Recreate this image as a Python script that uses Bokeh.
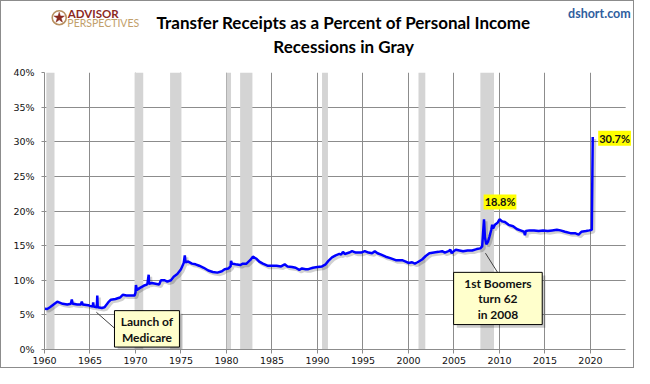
from bokeh.plotting import figure
from bokeh.layouts import column
from bokeh.models import Range1d, FixedTicker, PrintfTickFormatter, Label
from bokeh.embed import file_html
from bokeh.resources import INLINE

# ---- data ----
dates = [1960.0, 1960.3, 1960.6, 1961.0, 1961.4, 1961.6, 1962.0, 1962.5, 1962.9, 1963.0,
         1963.1, 1963.6, 1964.0, 1964.1, 1964.2, 1964.8, 1965.0, 1965.3, 1965.35, 1965.4,
         1965.75, 1965.8, 1965.85, 1966.3, 1966.6, 1967.0, 1967.3, 1967.8, 1968.3, 1968.6,
         1969.0, 1969.5, 1969.9, 1970.0, 1970.05, 1970.15, 1970.5, 1970.9, 1971.3, 1971.45,
         1971.5, 1971.8, 1972.2, 1972.6, 1972.8, 1973.2, 1973.5, 1973.9, 1974.2, 1974.6,
         1975.0, 1975.3, 1975.42, 1975.5, 1975.8, 1976.2, 1976.6, 1977.0, 1977.5, 1978.0,
         1978.5, 1979.0, 1979.5, 1979.8, 1980.2, 1980.45, 1980.5, 1980.6, 1981.0, 1981.5,
         1981.8, 1982.2, 1982.6, 1982.9, 1983.3, 1983.6, 1984.0, 1984.5, 1985.0, 1985.5,
         1986.0, 1986.4, 1986.7, 1987.2, 1987.6, 1988.0, 1988.3, 1988.7, 1989.0, 1989.5,
         1990.0, 1990.5, 1990.9, 1991.2, 1991.6, 1992.0, 1992.4, 1992.6, 1992.8, 1993.0,
         1993.5, 1993.8, 1994.2, 1994.8, 1995.2, 1995.6, 1996.0, 1996.3, 1996.6, 1997.0,
         1997.5, 1998.0, 1998.6, 1999.3, 1999.7, 2000.0, 2000.4, 2000.7, 2001.0, 2001.5,
         2001.9, 2002.3, 2002.8, 2003.3, 2003.7, 2004.0, 2004.4, 2004.6, 2004.75, 2004.8,
         2005.2, 2005.6, 2006.0, 2006.5, 2007.0, 2007.5, 2007.9, 2008.1, 2008.3, 2008.4,
         2008.55, 2008.75, 2008.9, 2009.1, 2009.2, 2009.3, 2009.5, 2009.8, 2010.0, 2010.3,
         2010.6, 2011.0, 2011.5, 2011.9, 2012.3, 2012.7, 2012.8, 2012.9, 2013.3, 2013.8,
         2014.3, 2014.8, 2015.3, 2015.8, 2016.3, 2016.7, 2017.2, 2017.8, 2018.3, 2018.7,
         2019.0, 2019.5, 2019.9, 2020.15, 2020.25]
transfer_pct = [5.9, 5.85, 6.1, 6.5, 6.9, 6.8, 6.6, 6.5, 6.6, 7.2,
                6.6, 6.5, 6.5, 6.9, 6.5, 6.4, 6.3, 6.2, 6.8, 6.2,
                6.1, 7.8, 6.1, 6.0, 6.1, 6.8, 7.2, 7.3, 7.5, 7.9,
                7.8, 7.8, 7.8, 8.2, 9.3, 8.6, 8.9, 9.2, 9.4, 10.8,
                9.5, 9.6, 9.5, 9.4, 10.0, 10.0, 9.8, 10.0, 10.5, 10.9,
                11.6, 12.5, 13.6, 12.6, 12.7, 12.4, 12.3, 12.1, 11.8, 11.4,
                11.2, 11.1, 11.3, 11.6, 11.7, 12.0, 12.8, 12.4, 12.3, 12.2,
                12.4, 12.4, 12.9, 13.4, 13.1, 12.7, 12.4, 12.1, 12.1, 12.1,
                12.0, 12.3, 12.0, 11.9, 11.8, 11.5, 11.7, 11.6, 11.6, 11.8,
                11.9, 12.0, 12.3, 12.8, 13.3, 13.6, 13.8, 13.7, 14.1, 13.8,
                14.0, 14.2, 14.0, 14.0, 14.2, 14.0, 13.9, 14.2, 13.9, 13.7,
                13.4, 13.2, 12.9, 12.9, 12.7, 12.5, 12.6, 12.4, 12.6, 13.0,
                13.5, 13.9, 14.0, 14.1, 14.2, 14.0, 14.2, 14.4, 13.9, 14.0,
                14.4, 14.3, 14.2, 14.3, 14.3, 14.5, 14.6, 14.9, 18.8, 16.2,
                15.2, 15.6, 16.3, 17.3, 18.0, 17.5, 18.0, 18.3, 18.8, 18.5,
                18.4, 18.0, 17.8, 17.4, 17.2, 17.0, 16.5, 17.1, 17.2, 17.2,
                17.1, 17.2, 17.1, 17.2, 17.3, 17.2, 17.0, 16.8, 16.8, 16.6,
                17.0, 17.1, 17.2, 17.3, 30.7]
rec_start = [1960.2, 1969.9, 1973.8, 1980.0, 1981.5, 1990.5, 2001.1, 2007.9]
rec_end = [1961.1, 1970.85, 1975.05, 1980.5, 1982.85, 1991.15, 2001.85, 2009.4]
x_ticks = [1960, 1965, 1970, 1975, 1980, 1985, 1990, 1995, 2000, 2005, 2010, 2015, 2020]
y_ticks = [0, 5, 10, 15, 20, 25, 30, 35, 40]
x_axis_end = 2023.87

GRID = "#8c8c8c"
TICKFONT = "DejaVu Sans"
FONT = "Lato"
W = 632
HEAD_H = 60
MAIN_H = 306

# ---------------- header (titles, logo) ----------------
head = figure(width=W, height=HEAD_H, output_backend="svg", toolbar_location=None,
              title=None, x_axis_type=None, y_axis_type=None,
              x_range=Range1d(0, W), y_range=Range1d(HEAD_H, 0),
              min_border=0, min_border_left=0, min_border_right=0,
              min_border_top=0, min_border_bottom=0)
head.outline_line_color = None
head.background_fill_color = "white"
head.border_fill_color = "white"
head.grid.visible = False

head.scatter([15.8], [16.2], marker="circle", size=14, fill_color=None,
             line_color="#b89060", line_width=1.6)
head.scatter([15.8], [16.2], marker="star", size=11, fill_color="#8b2a1f",
             line_color="#8b2a1f", line_width=0.5)
head.add_layout(Label(x=25, y=12.3, text="ADVISOR", text_align="left", text_baseline="middle",
                      text_font=FONT, text_font_style="bold", text_font_size="11.5px",
                      text_color="#8b2a1f"))
head.add_layout(Label(x=24.5, y=21.4, text="PERSPECTIVES", text_align="left",
                      text_baseline="middle", text_font=FONT, text_font_size="10.5px",
                      text_color="#c2a06a"))
head.add_layout(Label(x=629, y=11.8, text="dshort.com", text_align="right",
                      text_baseline="middle", text_font=FONT, text_font_style="bold",
                      text_font_size="12.5px", text_color="#2f5e9e"))
head.add_layout(Label(x=321, y=20.5, text="Transfer Receipts as a Percent of Personal Income",
                      text_align="center", text_baseline="middle", text_font=FONT,
                      text_font_style="bold", text_font_size="17px", text_color="#000000"))
head.add_layout(Label(x=321, y=44.5, text="Recessions in Gray", text_align="center",
                      text_baseline="middle", text_font=FONT, text_font_style="bold",
                      text_font_size="17px", text_color="#000000"))

# ---------------- main chart ----------------
p = figure(width=W, height=MAIN_H, output_backend="svg", toolbar_location=None, title=None,
           x_range=Range1d(1960, 2024.73), y_range=Range1d(0, 40),
           min_border_left=43, min_border_right=0, min_border_top=11, min_border_bottom=18)
p.outline_line_color = None
p.background_fill_color = "white"
p.border_fill_color = "white"

for ax in (p.xaxis[0], p.yaxis[0]):
    ax.axis_line_color = GRID
    ax.major_tick_line_color = GRID
    ax.minor_tick_line_color = None
    ax.major_tick_in = 0
    ax.major_label_text_font = TICKFONT
    ax.major_label_text_font_size = "9.5px"
    ax.major_label_text_color = "#111111"
p.xaxis.ticker = FixedTicker(ticks=x_ticks)
p.yaxis.ticker = FixedTicker(ticks=y_ticks)
p.xaxis.bounds = (1960, x_axis_end)
p.xaxis.major_tick_out = 4
p.yaxis.major_tick_out = 3
p.xaxis.major_label_standoff = 3
p.yaxis.major_label_standoff = 7
p.yaxis.formatter = PrintfTickFormatter(format="%d%%")
p.xgrid.ticker = FixedTicker(ticks=x_ticks)
p.ygrid.ticker = FixedTicker(ticks=y_ticks)
p.xgrid.grid_line_color = GRID
p.ygrid.grid_line_color = GRID

# blank out the grid beyond the end of the x axis
p.quad(left=[x_axis_end], right=[2026], bottom=[-1], top=[41], fill_color="white",
       line_color=None)

# recession bars
p.quad(left=rec_start, right=rec_end, bottom=0, top=40, fill_color="#d4d4d4",
       line_color=None)

# line shadow + line
p.line([d + 0.22 for d in dates], [v - 0.3 for v in transfer_pct], line_color="#000000",
       line_alpha=0.18, line_width=3)
p.line(dates, transfer_pct, line_color="#0000ff", line_width=2.5)


def note_box(l, r, b, t, lines, x_text, y_lines, leader):
    p.line(leader[0], leader[1], line_color="#404040", line_width=1)
    p.quad(left=[l + 0.35], right=[r + 0.35], bottom=[b - 0.45], top=[t - 0.45],
           fill_color="#000000", fill_alpha=0.2, line_color=None)
    p.quad(left=[l], right=[r], bottom=[b], top=[t], fill_color="#ffffcc",
           line_color="#000000", line_width=1)
    for txt, yy in zip(lines, y_lines):
        p.add_layout(Label(x=x_text, y=yy, text=txt, text_align="center",
                           text_baseline="middle", text_font=FONT, text_font_style="bold",
                           text_font_size="12px", text_color="#111111"))


note_box(1967.69, 1974.83, 0.35, 5.61, ["Launch of", "Medicare"], 1971.26, [4.03, 1.78],
         ([1965.70, 1967.69], [5.38, 3.08]))
note_box(2004.96, 2014.70, 3.6, 11.14, ["1st Boomers", "turn 62", "in 2008"], 2009.83,
         [9.55, 7.3, 5.04], ([2008.46, 2009.79], [13.91, 11.14]))

# value callouts
for txt, xx, yy, al in [("18.8%", 2010.06, 21.3, "center"), ("30.7%", 2020.85, 30.5, "left")]:
    p.add_layout(Label(x=xx, y=yy, text=txt, text_align=al, text_baseline="middle",
                       text_font=FONT, text_font_style="bold", text_font_size="11px",
                       text_color="#111111", background_fill_color="#ffff00",
                       padding=1))

lay = column(head, p, spacing=0)
lay.styles = {"border": "1px solid #8c8c8c"}

open("out.html", "w").write(file_html(lay, INLINE))
